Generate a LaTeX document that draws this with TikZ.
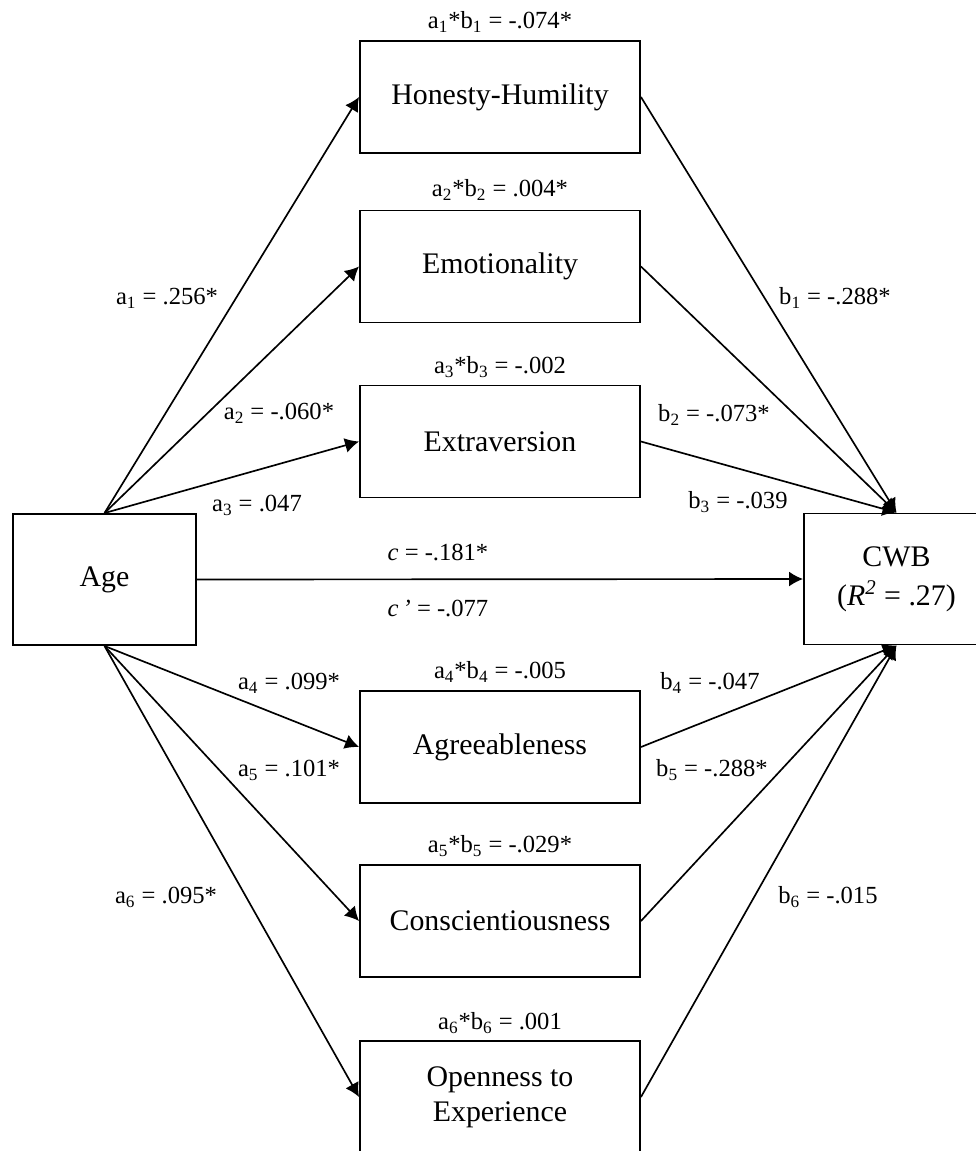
\documentclass[tikz,border=0pt]{standalone}
\usepackage{fontspec}
\setmainfont{Liberation Serif}
\usetikzlibrary{arrows.meta}

\begin{document}
\begin{tikzpicture}
\useasboundingbox (0,0) rectangle (19.52,-23.02);
\begin{scope}[every node/.style={rectangle,draw,line width=1.1pt,minimum width=5.6cm,minimum height=2.24cm,align=center,font=\fontsize{17}{20}\selectfont}]
	\node (hh) at (10,-1.94) {Honesty-Humility};
	\node (emo) at (10,-5.33) {Emotionality};
	\node (ext) at (10,-8.83) {Extraversion};
	\node (agr) at (10,-14.94) {Agreeableness};
	\node (con) at (10,-18.42) {Conscientiousness};
	\node (ope) at (10,-21.94) {Openness to\\Experience};

	\node[minimum width=3.66cm,minimum height=2.62cm] (age) at (2.09,-11.59) {Age};
	\node[minimum width=3.7cm,minimum height=2.62cm] (cwb) at (17.93,-11.58) {CWB\\[2pt]
	(\textit{R}\textsuperscript{\textit{2}} = .27)};
\end{scope}

\begin{scope}[every node/.style={font=\fontsize{14}{17}\selectfont,inner sep=1pt}]
	% indirect effects above the mediators
	\node (p1) at (10,-0.44) {a\textsubscript{1}*b\textsubscript{1} = -.074*};
	\node (p2) at (10,-3.8) {a\textsubscript{2}*b\textsubscript{2} = .004*};
	\node (p3) at (10,-7.34) {a\textsubscript{3}*b\textsubscript{3} = -.002};
	\node (p4) at (10,-13.44) {a\textsubscript{4}*b\textsubscript{4} = -.005};
	\node (p5) at (10,-16.92) {a\textsubscript{5}*b\textsubscript{5} = -.029*};
	\node (p6) at (10,-20.46) {a\textsubscript{6}*b\textsubscript{6} = .001};

	% path coefficients
	\node (la1) at (3.34,-5.96) {a\textsubscript{1} = .256*};
	\node (la2) at (5.58,-8.26) {a\textsubscript{2} = -.060*};
	\node (la3) at (5.14,-10.1) {a\textsubscript{3} = .047};
	\node (la4) at (5.78,-13.66) {a\textsubscript{4} = .099*};
	\node (la5) at (5.78,-15.4) {a\textsubscript{5} = .101*};
	\node (la6) at (3.32,-17.94) {a\textsubscript{6} = .095*};

	\node (lb1) at (16.7,-5.96) {b\textsubscript{1} = -.288*};
	\node (lb2) at (14.28,-8.3) {b\textsubscript{2} = -.073*};
	\node (lb3) at (14.76,-10.04) {b\textsubscript{3} = -.039};
	\node (lb4) at (14.2,-13.66) {b\textsubscript{4} = -.047};
	\node (lb5) at (14.24,-15.4) {b\textsubscript{5} = -.288*};
	\node (lb6) at (16.56,-17.94) {b\textsubscript{6} = -.015};

	\node (lc) at (8.76,-11.04) {\textit{c} = -.181*};
	\node (lcp) at (8.76,-12.16) {\textit{c\,’} = -.077};
\end{scope}

\begin{scope}[line width=0.95pt]
	\draw[-{Latex[length=2.8mm,width=3mm]}] (age.north) -- (hh.west);
	\draw[-{Latex[length=2.8mm,width=3mm]}] (age.north) -- (emo.west);
	\draw[-{Latex[length=2.8mm,width=3mm]}] (age.north) -- (ext.west);
	\draw[-{Latex[length=2.8mm,width=3mm]}] (age.south) -- (agr.west);
	\draw[-{Latex[length=2.8mm,width=3mm]}] (age.south) -- (con.west);
	\draw[-{Latex[length=2.8mm,width=3mm]}] (age.south) -- (ope.west);

	\draw[-{Latex[length=2.8mm,width=3mm]}] (hh.east) -- (cwb.north);
	\draw[-{Latex[length=2.8mm,width=3mm]}] (emo.east) -- (cwb.north);
	\draw[-{Latex[length=2.8mm,width=3mm]}] (ext.east) -- (cwb.north);
	\draw[-{Latex[length=2.8mm,width=3mm]}] (agr.east) -- (cwb.south);
	\draw[-{Latex[length=2.8mm,width=3mm]}] (con.east) -- (cwb.south);
	\draw[-{Latex[length=2.8mm,width=3mm]}] (ope.east) -- (cwb.south);

	\draw[-{Latex[length=2.8mm,width=3mm]}] (age.east) -- (cwb.west);
\end{scope}
\end{tikzpicture}
\end{document}
